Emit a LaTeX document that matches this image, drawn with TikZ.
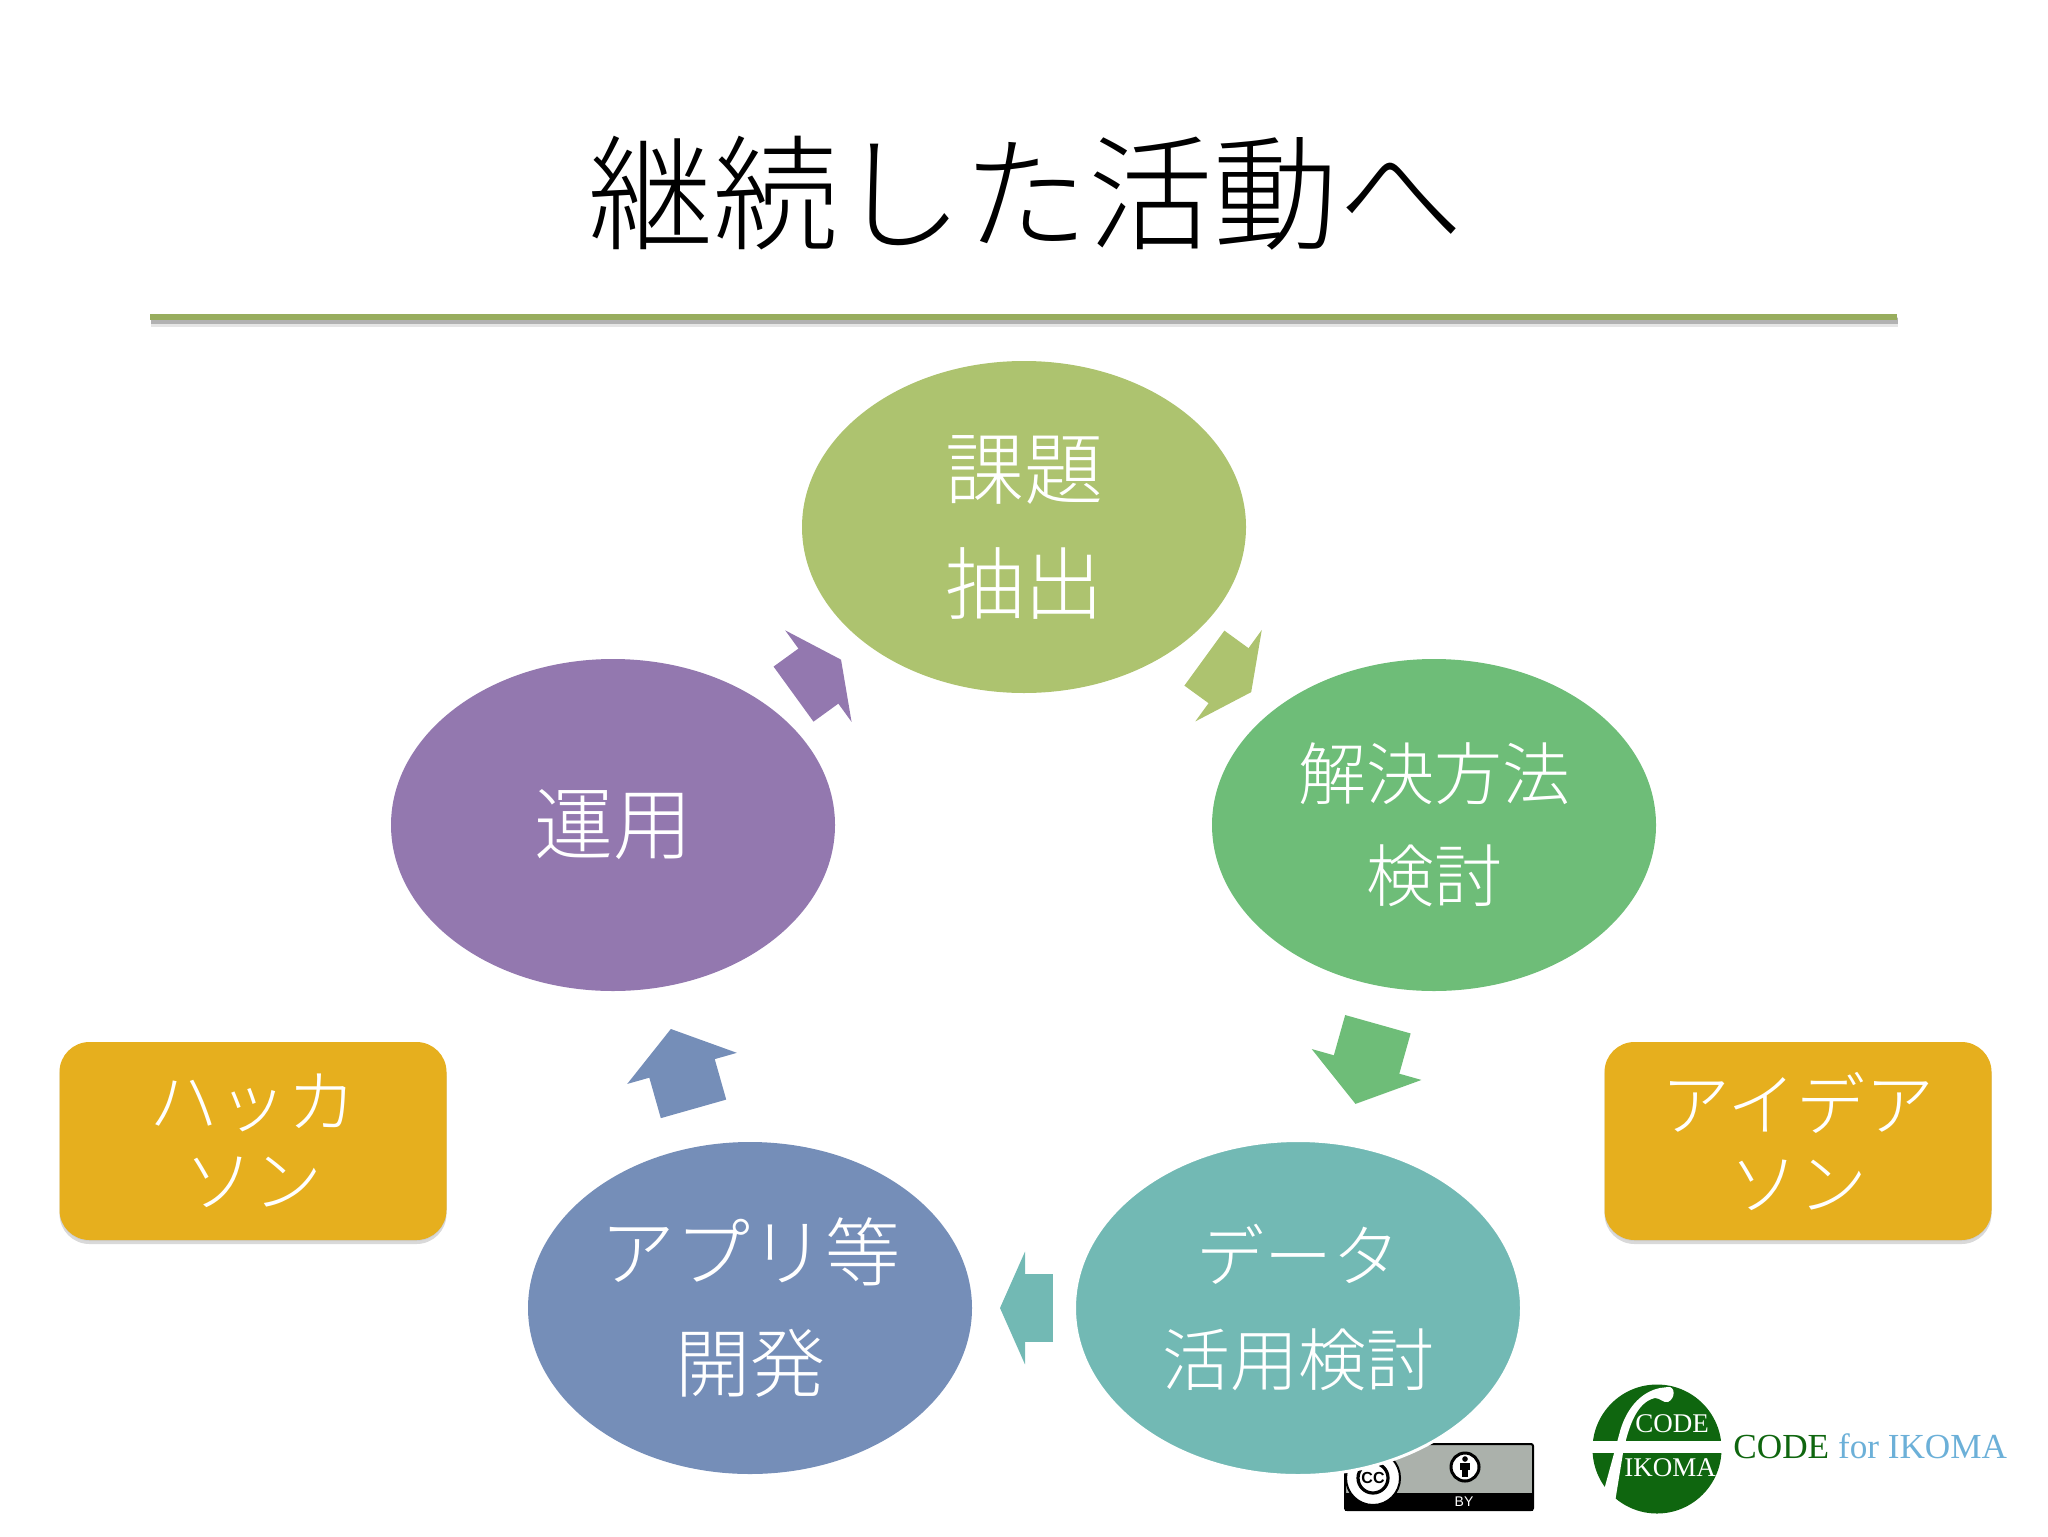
\documentclass[tikz,border=0pt]{standalone}
\usepackage{fontspec}
\setmainfont{Noto Sans CJK JP Light}
\newfontfamily\logofont{Liberation Serif}
\newfontfamily\badgefont{Liberation Sans}
\usetikzlibrary{arrows.meta, positioning, calc, shapes.geometric, shadows}

\definecolor{kadaicol}{HTML}{ADC36F}
\definecolor{kaiketsucol}{HTML}{6EBD78}
\definecolor{datacol}{HTML}{72B9B4}
\definecolor{kaihatsucol}{HTML}{758EB8}
\definecolor{unyocol}{HTML}{9378AF}
\definecolor{eventcol}{HTML}{E6AF1E}
\definecolor{rulecol}{HTML}{98AD5E}
\definecolor{logogreen}{HTML}{0F660F}
\definecolor{logoblue}{HTML}{6CB0D8}
\definecolor{badgegray}{HTML}{ABB1AB}

\begin{document}
\begin{tikzpicture}[
  x=0.5pt, y=-0.5pt,
  phase/.style = {ellipse, fill=#1, text=white, minimum width=222pt, minimum height=166pt, inner sep=0pt, align=center},
  eventbox/.style = {rectangle, rounded corners=15pt, fill=eventcol, text=white, minimum width=193.5pt, minimum height=99pt,
    align=center, drop shadow={opacity=0.12, shadow xshift=0pt, shadow yshift=-0.5pt},
    drop shadow={opacity=0.3, shadow xshift=0pt, shadow yshift=-2pt},
    font=\fontsize{34.5}{39.5}\selectfont},
  flow/.style = {draw=#1, line width=34pt, -{Triangle[length=14pt, width=56pt, color=#1]}},
  logotext/.style = {text=white, inner sep=0pt, font=\logofont\fontsize{13.5}{13.5}\selectfont}
]
  \useasboundingbox (0,0) rectangle (2048,1536);

  % ======================================================
  % Title
  % ======================================================
  \node[font=\fontsize{62.5}{62.5}\selectfont] (title) at (1026,193) {継続した活動へ};
  \coordinate (ruleleft) at (150,317);
  \coordinate (ruleright) at (1897,317);
  \draw[black!10, line width=5pt] ($(ruleleft)+(1,5)$) -- ($(ruleright)+(1,5)$);
  \draw[black!30, line width=3pt] ($(ruleleft)+(1,4)$) -- ($(ruleright)+(1,4)$);
  \draw[rulecol, line width=3pt] (ruleleft) -- (ruleright);

  % CC badge (goes under the teal ellipse)
  \node[rectangle, rounded corners=1pt, draw=black, line width=1pt, fill=badgegray, minimum width=94pt, minimum height=33pt, inner sep=0pt] (badge) at (1439,1477) {};
  \fill[black] (1345,1493) rectangle (1533,1511);
  \node[circle, draw=black, line width=1pt, fill=white, minimum size=27pt, inner sep=0pt] (ccring) at (1373,1478) {};
  \node[circle, draw=black, line width=1.6pt, inner sep=0pt, minimum size=15pt, font=\badgefont\bfseries\fontsize{8}{8}\selectfont] (cc) at (1373,1478) {CC};
  \node[circle, draw=black, line width=1.5pt, fill=white, minimum size=14pt, inner sep=0pt] (person) at (1465,1467) {};
  \fill[black] (1465,1459) circle (1.4pt);
  \fill[black] (1460,1463) rectangle (1470,1470);
  \fill[black] (1462,1470) rectangle (1468,1477);
  \node[text=white, inner sep=0pt, font=\badgefont\fontsize{7}{7}\selectfont] (by) at (1464,1502) {BY};

  % ======================================================
  % Phases
  % ======================================================
  \node[phase=kadaicol, font=\fontsize{39.5}{57.5}\selectfont] (kadai) at (1024,527) {課題\\抽出};
  \node[phase=kaiketsucol, font=\fontsize{34}{51}\selectfont] (kaiketsu) at (1434,825) {解決方法\\検討};
  \node[phase=datacol, draw=white, line width=1.5pt, minimum width=223.5pt, minimum height=167.5pt, font=\fontsize{34}{52}\selectfont] (data) at (1298,1308) {データ\\活用検討};
  \node[phase=kaihatsucol, font=\fontsize{37.5}{55.5}\selectfont] (kaihatsu) at (750,1308) {アプリ等\\開発};
  \node[phase=unyocol, font=\fontsize{39.5}{57.5}\selectfont] (unyo) at (613,825) {運用};

  % Side boxes
  \node[eventbox] (hackathon) at (253,1141) {ハッカ\\ソン};
  \node[eventbox] (ideathon) at (1798,1141) {アイデア\\ソン};

  % ======================================================
  % Arrows round the cycle
  % ======================================================
  \draw[flow=kadaicol, shorten <=111.5pt, shorten >=113pt] (kadai.center) -- (kaiketsu.center);
  \draw[flow=kaiketsucol, shorten <=103.5pt, shorten >=106pt,
    -{Triangle[length=20.5pt, width=56pt, color=kaiketsucol]}] (kaiketsu.center) -- (data.center);
  \draw[flow=datacol, shorten <=122.5pt, shorten >=125pt,
    -{Triangle[length=12.5pt, width=56pt, color=datacol]}] (data.center) -- (kaihatsu.center);
  \draw[flow=kaihatsucol, shorten <=103.5pt, shorten >=106pt,
    -{Triangle[length=20.5pt, width=56pt, color=kaihatsucol]}] (kaihatsu.center) -- (unyo.center);
  \draw[flow=unyocol, shorten <=111.5pt, shorten >=113pt] (unyo.center) -- (kadai.center);

  % ======================================================
  % CODE for IKOMA logo
  % ======================================================
  \node[ellipse, fill=logogreen, minimum width=64.5pt, minimum height=64.5pt, inner sep=0pt] (logo) at (1657,1449) {};
  \fill[white] (1590,1441) rectangle (1723,1453);
  \fill[white] (1660,1388) .. controls (1640,1392) and (1625,1410) .. (1619,1435)
    -- (1604,1490) -- (1615,1502) -- (1623,1453)
    .. controls (1627,1433) and (1635,1402) .. (1655,1398)
    .. controls (1660,1398) and (1663,1403) .. (1668,1402)
    .. controls (1676,1398) and (1675,1386) .. (1668,1387) -- cycle;
  \node[logotext] (logocode) at (1672,1424) {CODE};
  \node[logotext] (logoikoma) at (1670,1468) {IKOMA};
  \node[anchor=west, inner sep=0pt, font=\logofont\fontsize{17.6}{17.6}\selectfont, text=logogreen] (logoname) at (1733,1446) {CODE \textcolor{logoblue}{for IKOMA}};

\end{tikzpicture}
\end{document}
